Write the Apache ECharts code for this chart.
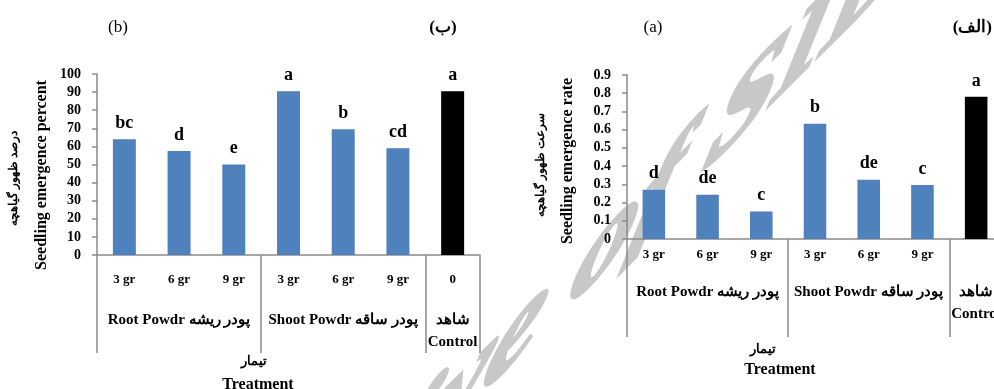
<!DOCTYPE html>
<html><head><meta charset="utf-8">
<script src="https://cdn.jsdelivr.net/npm/echarts@6/dist/echarts.min.js"></script>
<style>html,body{margin:0;padding:0;background:#fff;overflow:hidden}#c{width:1012px;height:389px}</style>
</head><body><div id="c"></div>
<script>
// ---- data ----
const doseLabelsB = ['3 gr','6 gr','9 gr','3 gr','6 gr','9 gr','0'];
const doseLabelsA = ['3 gr','6 gr','9 gr','3 gr','6 gr','9 gr',''];
const groupLabels = ['', 'Root Powdr پودر ریشه', '', '', 'Shoot Powdr پودر ساقه', '', 'شاهد\nControl'];
const percentValues = [64, 57.5, 50, 90.5, 69.5, 59, 90.5];
const percentLetters = ['bc','d','e','a','b','cd','a'];
const rateValues = [0.27, 0.243, 0.151, 0.632, 0.325, 0.297, 0.78];
const rateLetters = ['d','de','c','b','de','c','a'];
const percentAxis = {min:0, max:100, interval:10};
const rateAxis = {min:0, max:0.9, interval:0.1};
const groupStartIdx = [0, 3, 6];
const controlIndex = 6;

// ---- styling ----
const FONT = '"Liberation Serif", "DejaVu Serif", serif';
const AXIS = '#8a8a8a';
const BLUE = '#4f81bd';

function barData(vals){
  return vals.map((v,i)=>({value:v, itemStyle:{color: i===controlIndex ? '#000000' : BLUE}}));
}
function yAx(gi, ax, fmt){
  return {type:'value', gridIndex:gi, min:ax.min, max:ax.max, interval:ax.interval,
    axisLine:{show:true, lineStyle:{color:AXIS, width:1.5}},
    axisTick:{show:true, length:5, lineStyle:{color:AXIS, width:1.5}},
    splitLine:{show:false},
    axisLabel:{fontFamily:FONT, fontWeight:'bold', fontSize:14, color:'#000', margin:16, formatter:fmt}};
}
function xDose(gi, data, margin){
  return {type:'category', gridIndex:gi, data:data, position:'bottom',
    axisLine:{show:true, lineStyle:{color:AXIS, width:1.5}},
    axisTick:{show:true, length:98, interval:(i)=>groupStartIdx.includes(i), lineStyle:{color:AXIS, width:1.5}},
    axisLabel:{interval:0, fontFamily:FONT, fontWeight:'bold', fontSize:13, color:'#000', margin:margin}};
}
function xGroup(gi, margin){
  return {type:'category', gridIndex:gi, data:groupLabels, position:'bottom',
    axisLine:{show:false}, axisTick:{show:false},
    axisLabel:{interval:0, fontFamily:FONT, fontWeight:'bold', fontSize:15, lineHeight:22, color:'#000', margin:margin}};
}
function bars(xi, yi, vals, letters){
  return {type:'bar', xAxisIndex:xi, yAxisIndex:yi, barWidth:'42%', data:barData(vals),
    label:{show:true, position:'top', distance:7, fontFamily:FONT, fontWeight:'bold', fontSize:18, color:'#000',
      formatter:(p)=>letters[p.dataIndex]}};
}
function txt(x, y, s, size, opts){
  opts = opts || {};
  return {type:'text', x:x, y:y, rotation:opts.rot || 0, z:100,
    style:{text:s, x:0, y:0, fill:opts.fill || '#000', textAlign:opts.align || 'center', textVerticalAlign:'middle',
      font:(opts.italic?'italic ':'') + (opts.bold===false?'':'bold ') + size + 'px ' + FONT}};
}
// sheared watermark: decompose a 2x2 shear matrix into rotation * scale * rotation
function shearedText(cx, cy, s, size, m){
  const a=m[0][0], b=m[0][1], c=m[1][0], d=m[1][1];
  const E=(a+d)/2, F=(a-d)/2, G=(c+b)/2, H=(c-b)/2;
  const Q=Math.hypot(E,H), R=Math.hypot(F,G);
  const sx=Q+R, sy=Q-R;
  const a1=Math.atan2(G,F), a2=Math.atan2(H,E);
  const th=(a2-a1)/2, ph=(a2+a1)/2;
  return {type:'group', x:cx, y:cy, rotation:-ph, scaleX:sx, scaleY:sy, z:-10, silent:true,
    children:[{type:'text', rotation:-th, z:-10,
      style:{text:s, x:0, y:0, fill:'#c8c8c8', stroke:'#c8c8c8', lineWidth:5, textAlign:'center', textVerticalAlign:'middle',
        font:'italic bold ' + size + 'px ' + FONT}}]};
}

const chart = echarts.init(document.getElementById('c'), null, {renderer:'canvas'});
chart.setOption({
  animation:false,
  backgroundColor:'#fff',
  grid:[{left:97, top:74, width:383, height:181}, {left:627, top:75, width:376, height:164}],
  xAxis:[xDose(0, doseLabelsB, 18), xGroup(0, 54), xDose(1, doseLabelsA, 9), xGroup(1, 42)],
  yAxis:[yAx(0, percentAxis), yAx(1, rateAxis, (v)=> v===0 ? '0' : v.toFixed(1))],
  series:[bars(0, 0, percentValues, percentLetters), bars(2, 1, rateValues, rateLetters)],
  graphic:[
    shearedText(530, 322, 'Archive of SID', 125, [[1, -0.3], [-1, 1]]),
    txt(118, 28, '(b)', 17, {bold:false}),
    txt(443, 28, '(ب)', 17),
    txt(653, 28, '(a)', 17, {bold:false}),
    txt(992, 28, '(الف)', 17, {align:'right'}),
    txt(42, 175, 'Seedling emergence percent', 16, {rot:Math.PI/2}),
    txt(14, 178, 'درصد ظهور گیاهچه', 12, {rot:Math.PI/2}),
    txt(568, 161, 'Seedling emergence rate', 16, {rot:Math.PI/2}),
    txt(541, 165, 'سرعت ظهور گیاهچه', 12, {rot:Math.PI/2}),
    txt(254, 362, 'تیمار', 13),
    txt(258, 385, 'Treatment', 16),
    txt(763, 350, 'تیمار', 13),
    txt(780, 370, 'Treatment', 16)
  ]
});
</script>
</body></html>
